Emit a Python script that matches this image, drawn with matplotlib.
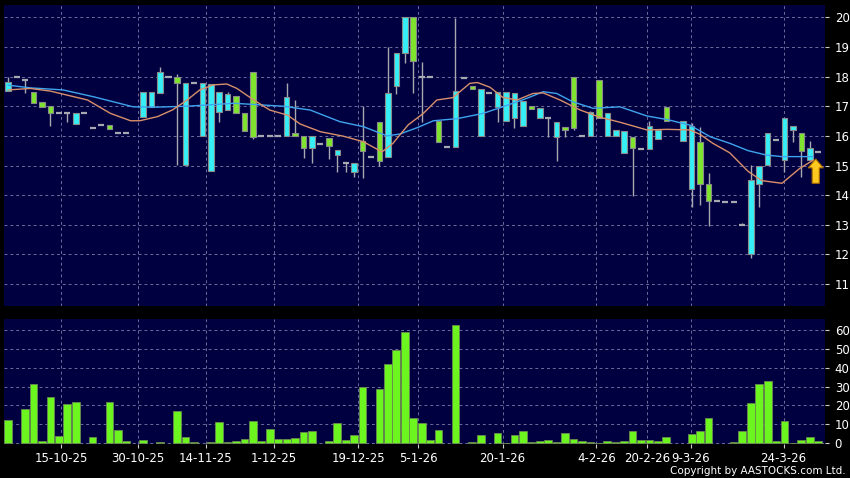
import numpy as np
import matplotlib
matplotlib.use("Agg")
import matplotlib.pyplot as plt
from matplotlib.patches import FancyArrow

# daily candles, index = trading slot on the chart (nan = no candle)
nan = np.nan
opens = [17.52, 17.98, 17.87, 17.47, 17.13, 17.00, 16.77, 16.76, 16.39, 16.76,
         16.25, 16.36, 16.36, 16.09, 16.09, nan, 16.65, 16.98, 17.43, 18.00,
         17.98, 15.02, 17.77, 15.99, 14.81, 16.79, 16.87, 17.36, 16.76, 18.17,
         15.99, 15.99, 15.99, 15.99, 16.08, 15.99, 15.58, 15.73, 15.94, 15.36,
         15.09, 14.77, 15.83, 15.30, 16.48, 15.30, 17.68, 18.78, 20.00, 17.97,
         17.97, 16.50, 15.63, 15.63, 17.95, 17.67, 16.00, 17.46, 16.98, 16.49,
         16.59, 16.34, 17.00, 16.59, 16.59, 15.97, 16.30, 17.97, 15.99, 15.99,
         17.90, 15.99, 15.99, 15.43, 15.97, 15.54, 15.54, 15.89, 16.97, nan,
         15.83, 14.20, 15.80, 14.39, 13.80, 13.78, 13.76, 12.99, 12.00, 14.39,
         15.02, 15.86, 15.18, 16.20, 16.09, 15.18, 15.47]
highs = [17.98, 17.98, 17.87, 17.47, 17.13, 17.00, 16.77, 16.76, 16.76, 16.76,
         16.25, 16.36, 16.36, 16.09, 16.09, nan, 17.47, 17.47, 18.31, 18.00,
         18.09, 17.77, 17.77, 17.77, 17.75, 17.47, 17.49, 17.36, 16.76, 18.17,
         15.99, 15.99, 15.99, 17.77, 17.20, 15.99, 15.99, 15.73, 15.94, 15.53,
         15.09, 15.07, 17.00, 15.30, 16.48, 18.99, 18.78, 20.00, 20.00, 18.50,
         17.97, 16.50, 15.63, 19.97, 17.95, 17.67, 17.57, 17.46, 17.47, 17.47,
         17.44, 17.18, 17.00, 16.93, 16.59, 16.46, 16.30, 17.97, 15.99, 16.85,
         17.90, 16.76, 16.20, 16.17, 15.97, 15.54, 16.50, 16.19, 16.97, nan,
         16.50, 16.44, 16.31, 14.74, 13.80, 13.78, 13.76, 13.05, 15.02, 14.99,
         16.09, 15.86, 16.59, 16.33, 16.09, 15.81, 15.47]
lows = [17.52, 17.98, 17.46, 17.12, 16.99, 16.33, 16.77, 16.48, 16.39, 16.76,
        16.25, 16.36, 16.24, 16.09, 16.09, nan, 16.65, 16.98, 17.43, 18.00,
        15.02, 15.02, 17.77, 15.99, 14.81, 16.48, 16.87, 16.76, 16.18, 15.91,
        15.99, 15.99, 15.99, 15.99, 15.99, 15.24, 15.09, 15.73, 15.22, 14.79,
        14.79, 14.60, 14.57, 15.30, 14.99, 15.30, 17.41, 18.47, 17.46, 16.48,
        17.97, 15.78, 15.63, 15.63, 17.95, 17.57, 16.00, 17.46, 16.48, 16.49,
        16.27, 16.34, 16.92, 16.59, 15.97, 15.16, 15.97, 16.19, 15.99, 15.99,
        16.61, 15.99, 15.99, 15.43, 13.98, 15.54, 15.54, 15.89, 16.50, nan,
        15.83, 13.59, 13.67, 12.97, 13.80, 13.78, 13.76, 12.99, 11.87, 13.59,
        15.02, 15.86, 14.79, 15.78, 14.60, 15.18, 15.47]
closes = [17.81, 17.98, 17.87, 17.12, 16.99, 16.76, 16.77, 16.76, 16.76, 16.76,
          16.25, 16.36, 16.24, 16.09, 16.09, nan, 17.47, 17.47, 18.14, 18.00,
          17.77, 17.77, 17.77, 17.77, 17.75, 17.47, 17.41, 16.76, 16.18, 15.97,
          15.99, 15.99, 15.99, 17.32, 15.99, 15.58, 15.99, 15.73, 15.67, 15.53,
          15.09, 15.07, 15.49, 15.30, 15.16, 17.46, 18.78, 20.00, 18.54, 17.97,
          17.97, 15.78, 15.63, 17.51, 17.95, 17.57, 17.57, 17.46, 17.47, 17.47,
          17.44, 17.18, 16.92, 16.93, 16.59, 16.46, 16.20, 16.27, 15.99, 16.79,
          16.61, 16.76, 16.20, 16.17, 15.58, 15.54, 16.34, 16.19, 16.50, nan,
          16.50, 16.33, 14.36, 13.80, 13.80, 13.78, 13.76, 12.99, 14.51, 14.99,
          16.09, 15.86, 16.59, 16.33, 15.49, 15.58, 15.47]

# volume (millions) by slot
vol_idx = [0, 2, 3, 4, 5, 6, 7, 8, 10, 12, 13, 14, 16, 18, 20, 21, 22, 24, 25, 26,
           27, 28, 29, 30, 31, 32, 33, 34, 35, 36, 38, 39, 40, 41, 42, 44, 45, 46, 47, 48,
           49, 50, 51, 53, 55, 56, 58, 59, 60, 61, 62, 63, 64, 65, 66, 67, 68, 69, 70, 71,
           72, 73, 74, 75, 76, 77, 78, 81, 82, 83, 86, 87, 88, 89, 90, 91, 92, 93, 94, 95, 96]
volume = [12.2, 18.0, 31.4, 1.2, 24.4, 4.1, 21.0, 22.1, 3.5, 21.9, 7.2, 1.2, 1.8, 0.7, 17.1, 3.2, 0.9, 0.7, 11.5, 0.5,
          1.0, 2.3, 11.8, 1.0, 7.6, 2.1, 2.1, 2.6, 5.8, 6.5, 1.0, 10.6, 1.8, 4.2, 30.0, 28.9, 42.0, 49.4, 58.8, 13.4,
          10.6, 1.8, 7.1, 62.6, 0.9, 4.2, 5.5, 0.3, 4.4, 6.7, 0.5, 1.0, 1.8, 0.7, 5.5, 2.1, 1.0, 0.7, 0.3, 1.4,
          0.5, 1.2, 6.7, 1.8, 1.6, 1.0, 3.2, 4.9, 6.4, 13.6, 0.5, 6.7, 21.5, 31.4, 33.2, 1.2, 11.8, 0.3, 1.8, 3.5, 1.2]

# moving averages (slot position, price)
ma_long_x = [0, 2.6, 6.5, 10.1, 14.8, 17.7, 21.2, 25.1, 26.7, 32.6, 35.8, 39.3, 42.1, 44.9, 46.4,
             48.5, 50.4, 53.2, 56.3, 58.6, 61.5, 63.4, 65.0, 66.9, 69.3, 72.5, 75.7, 78.1, 80.8,
             83.2, 85.5, 87.7, 89.9, 91.7, 95.4]
ma_long = [17.71, 17.62, 17.55, 17.32, 16.98, 16.97, 17.00, 17.07, 17.10, 17.00, 16.87, 16.48, 16.31, 16.00, 16.06,
           16.28, 16.51, 16.58, 16.76, 16.98, 17.27, 17.49, 17.43, 17.15, 16.93, 16.98, 16.67, 16.55, 16.36,
           15.97, 15.75, 15.50, 15.35, 15.30, 15.30]
ma_short_x = [0, 2.6, 5.0, 9.4, 12.1, 14.5, 15.6, 17.7, 19.5, 21.2, 22.7, 24.3, 25.9, 27.1, 29.0, 31.0,
              33.1, 34.6, 37.0, 39.7, 42.1, 44.3, 45.6, 47.4, 49.2, 50.8, 52.7, 54.7, 55.6, 57.1, 58.6,
              60.3, 62.2, 63.4, 65.4, 67.8, 70.1, 72.5, 75.7, 78.1, 80.8, 82.0, 83.5, 85.5, 87.7, 89.3,
              91.7, 93.8, 95.4]
ma_short = [17.55, 17.60, 17.51, 17.21, 16.76, 16.51, 16.51, 16.65, 16.88, 17.21, 17.55, 17.72, 17.75, 17.60, 17.23, 16.87,
            16.70, 16.40, 16.14, 15.99, 15.80, 15.46, 15.75, 16.37, 16.76, 17.21, 17.29, 17.77, 17.80, 17.64, 17.30,
            17.21, 17.43, 17.45, 17.21, 16.87, 16.63, 16.46, 16.20, 16.22, 16.20, 16.05, 15.75, 15.43, 14.80, 14.49,
            14.40, 14.90, 15.18]

date_pos = [6.3, 15.4, 23.4, 31.5, 41.5, 48.6, 58.6, 69.7, 75.7, 80.9, 91.9]
date_labels = ['15-10-25', '30-10-25', '14-11-25', '1-12-25', '19-12-25', '5-1-26',
               '20-1-26', '4-2-26', '20-2-26', '9-3-26', '24-3-26']

navy = '#000040'
up_col = '#36eef6'
down_col = '#7ee52c'
flat_col = '#a8a8b0'
grid_col = '#6c6c9c'

o = np.array(opens); h = np.array(highs); l = np.array(lows); c = np.array(closes)
x = np.arange(len(o))

fig = plt.figure(figsize=(8.5, 4.78), dpi=100, facecolor='black')
ax = fig.add_axes([4/850, 1-306/478, 821/850, 301/478])
axv = fig.add_axes([4/850, 1-444/478, 821/850, 125/478])

for a in (ax, axv):
    a.set_facecolor(navy)
    for s in a.spines.values():
        s.set_visible(False)
    a.set_xlim(-0.5, 96.8)
    a.set_xticks(date_pos)
    a.grid(True, color=grid_col, ls=(0, (3, 3)), lw=0.7)
    a.set_axisbelow(True)
    a.yaxis.tick_right()
    a.tick_params(axis='y', colors='white', labelsize=8.5, length=3, pad=4, color='#cccccc')

# price panel
ax.set_ylim(10.26, 20.415)
ax.set_yticks(range(11, 21))
ax.tick_params(axis='x', length=0, labelbottom=False)

ok = ~np.isnan(o)
ax.vlines(x[ok], l[ok], h[ok], color=flat_col, lw=1, zorder=2)
up = ok & (c > o)
dn = ok & (c < o)
fl = ok & (c == o)
ax.bar(x[up], c[up] - o[up], bottom=o[up], width=0.66, color=up_col,
       edgecolor='#8a8a8a', lw=0.8, zorder=3)
ax.bar(x[dn], o[dn] - c[dn], bottom=c[dn], width=0.66, color=down_col,
       edgecolor='#8a8a8a', lw=0.8, zorder=3)
ax.hlines(c[fl], x[fl] - 0.36, x[fl] + 0.36, color=flat_col, lw=1.6, zorder=3)

ax.plot(ma_long_x, ma_long, color='#3fa4ee', lw=1, zorder=4)
ax.plot(ma_short_x, ma_short, color='#d9906a', lw=1, zorder=4)

ax.add_patch(FancyArrow(95.7, 14.40, 0, 0.82, width=0.85, head_width=1.8, head_length=0.3,
                        length_includes_head=True, fc='#ffc81e', ec='#a86a00', lw=0.8, zorder=6))

# volume panel
axv.set_ylim(-0.4, 65.8)
axv.set_yticks(range(0, 61, 10))
axv.bar(vol_idx, volume, width=0.92, color='#6cf51e', edgecolor='#6a8a50', lw=0.6, zorder=3)
axv.set_xticklabels(date_labels)
axv.tick_params(axis='x', colors='white', labelsize=8.5, length=3, pad=3, color='#cccccc')

fig.text(0.995, 0.004, 'Copyright by AASTOCKS.com Ltd.', color='white', fontsize=7.5,
         ha='right', va='bottom')

fig.savefig('out.png', dpi=100, facecolor='black')
